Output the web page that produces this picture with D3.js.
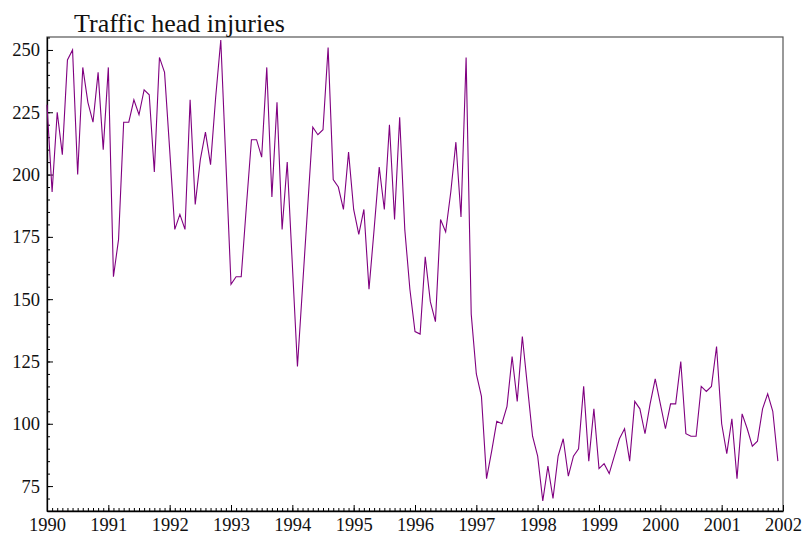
<!DOCTYPE html>
<html>
<head>
<meta charset="utf-8">
<script src="https://cdn.jsdelivr.net/npm/d3@7"></script>
<style>
  body { margin: 0; background: #fff; }
  svg { display: block; }
  text { font-family: 'Liberation Serif', 'Times New Roman', serif; }
</style>
</head>
<body>
<div id="chart"></div>
<script>
// monthly counts, Jan 1990 .. Dec 2001
const startYear = 1990
const injuries = [
  228, 193, 225, 208, 246, 250, 200, 243, 229, 221, 241, 210,
  243, 159, 174, 221, 221, 230, 224, 234, 232, 201, 247, 241,
  210, 178, 184, 178, 230, 188, 206, 217, 204, 231, 254, 205,
  156, 159, 159, 187, 214, 214, 207, 243, 191, 229, 178, 205,
  164, 123, 155, 187, 219, 216, 218, 251, 198, 195, 186, 209,
  186, 176, 186, 154, 178, 203, 186, 220, 182, 223, 178, 154,
  137, 136, 167, 149, 141, 182, 177, 193, 213, 183, 247, 144,
  120, 111, 78, 89, 101, 100, 107, 127, 109, 135, 115, 95,
  87, 69, 83, 70, 87, 94, 79, 87, 90, 115, 85, 106,
  82, 84, 80, 87, 94, 98, 85, 109, 106, 96, 108, 118,
  108, 98, 108, 108, 125, 96, 95, 95, 115, 113, 115, 131,
  100, 88, 102, 78, 104, 98, 91, 93, 106, 112, 105, 85
]
const yearTicks = d3.range(1990, 2003)
const yTicks = [75, 100, 125, 150, 175, 200, 225, 250]
const yMinorTicks = d3.range(65, 256, 5)
const title = 'Traffic head injuries'

const width = 804
const height = 535
const margin = { top: 37, right: 21, bottom: 24, left: 47 }

const svg = d3.select('#chart')
  .append('svg')
  .attr('width', width)
  .attr('height', height)

const x = d3.scaleLinear()
  .domain([1990, 2002])
  .range([margin.left, width - margin.right])

const y = d3.scaleLinear()
  .domain([65, 255.2])
  .range([height - margin.bottom, margin.top])

const points = injuries.map((v, i) => ({ t: startYear + i / 12, v }))

// frame
svg.append('rect')
  .attr('x', margin.left)
  .attr('y', margin.top)
  .attr('width', width - margin.left - margin.right)
  .attr('height', height - margin.top - margin.bottom)
  .attr('fill', 'none')
  .attr('stroke', '#555')
  .attr('stroke-width', 1.2)

// minor ticks
svg.append('g')
  .attr('transform', `translate(0,${height - margin.bottom})`)
  .call(d3.axisBottom(x).tickValues(d3.range(0, 145).map(i => 1990 + i / 12)).tickSize(-3).tickFormat(''))
  .call(g => g.select('.domain').remove())

svg.append('g')
  .attr('transform', `translate(${margin.left},0)`)
  .call(d3.axisLeft(y).tickValues(yMinorTicks).tickSize(-3).tickFormat(''))
  .call(g => g.select('.domain').remove())

// major axes
const xAxis = svg.append('g')
  .attr('transform', `translate(0,${height - margin.bottom})`)
  .call(d3.axisBottom(x).tickValues(yearTicks).tickFormat(d3.format('d')).tickSize(-6).tickSizeOuter(0).tickPadding(7))

const yAxis = svg.append('g')
  .attr('transform', `translate(${margin.left},0)`)
  .call(d3.axisLeft(y).tickValues(yTicks).tickSize(-6).tickSizeOuter(0).tickPadding(7))

for (const g of [xAxis, yAxis]) {
  g.selectAll('text')
    .attr('fill', '#111')
    .style('font-size', '18.5px')
    .style('font-family', "'Liberation Serif', 'Times New Roman', serif")
  g.select('.domain').attr('stroke', '#000').attr('stroke-width', 1.3)
}

svg.append('path')
  .datum(points)
  .attr('fill', 'none')
  .attr('stroke', '#800080')
  .attr('stroke-width', 1.1)
  .attr('stroke-linejoin', 'miter')
  .attr('d', d3.line().x(d => x(d.t)).y(d => y(d.v)))

svg.append('text')
  .attr('x', 74)
  .attr('y', 32)
  .attr('fill', '#111')
  .style('font-size', '26px')
  .text(title)
</script>
</body>
</html>
